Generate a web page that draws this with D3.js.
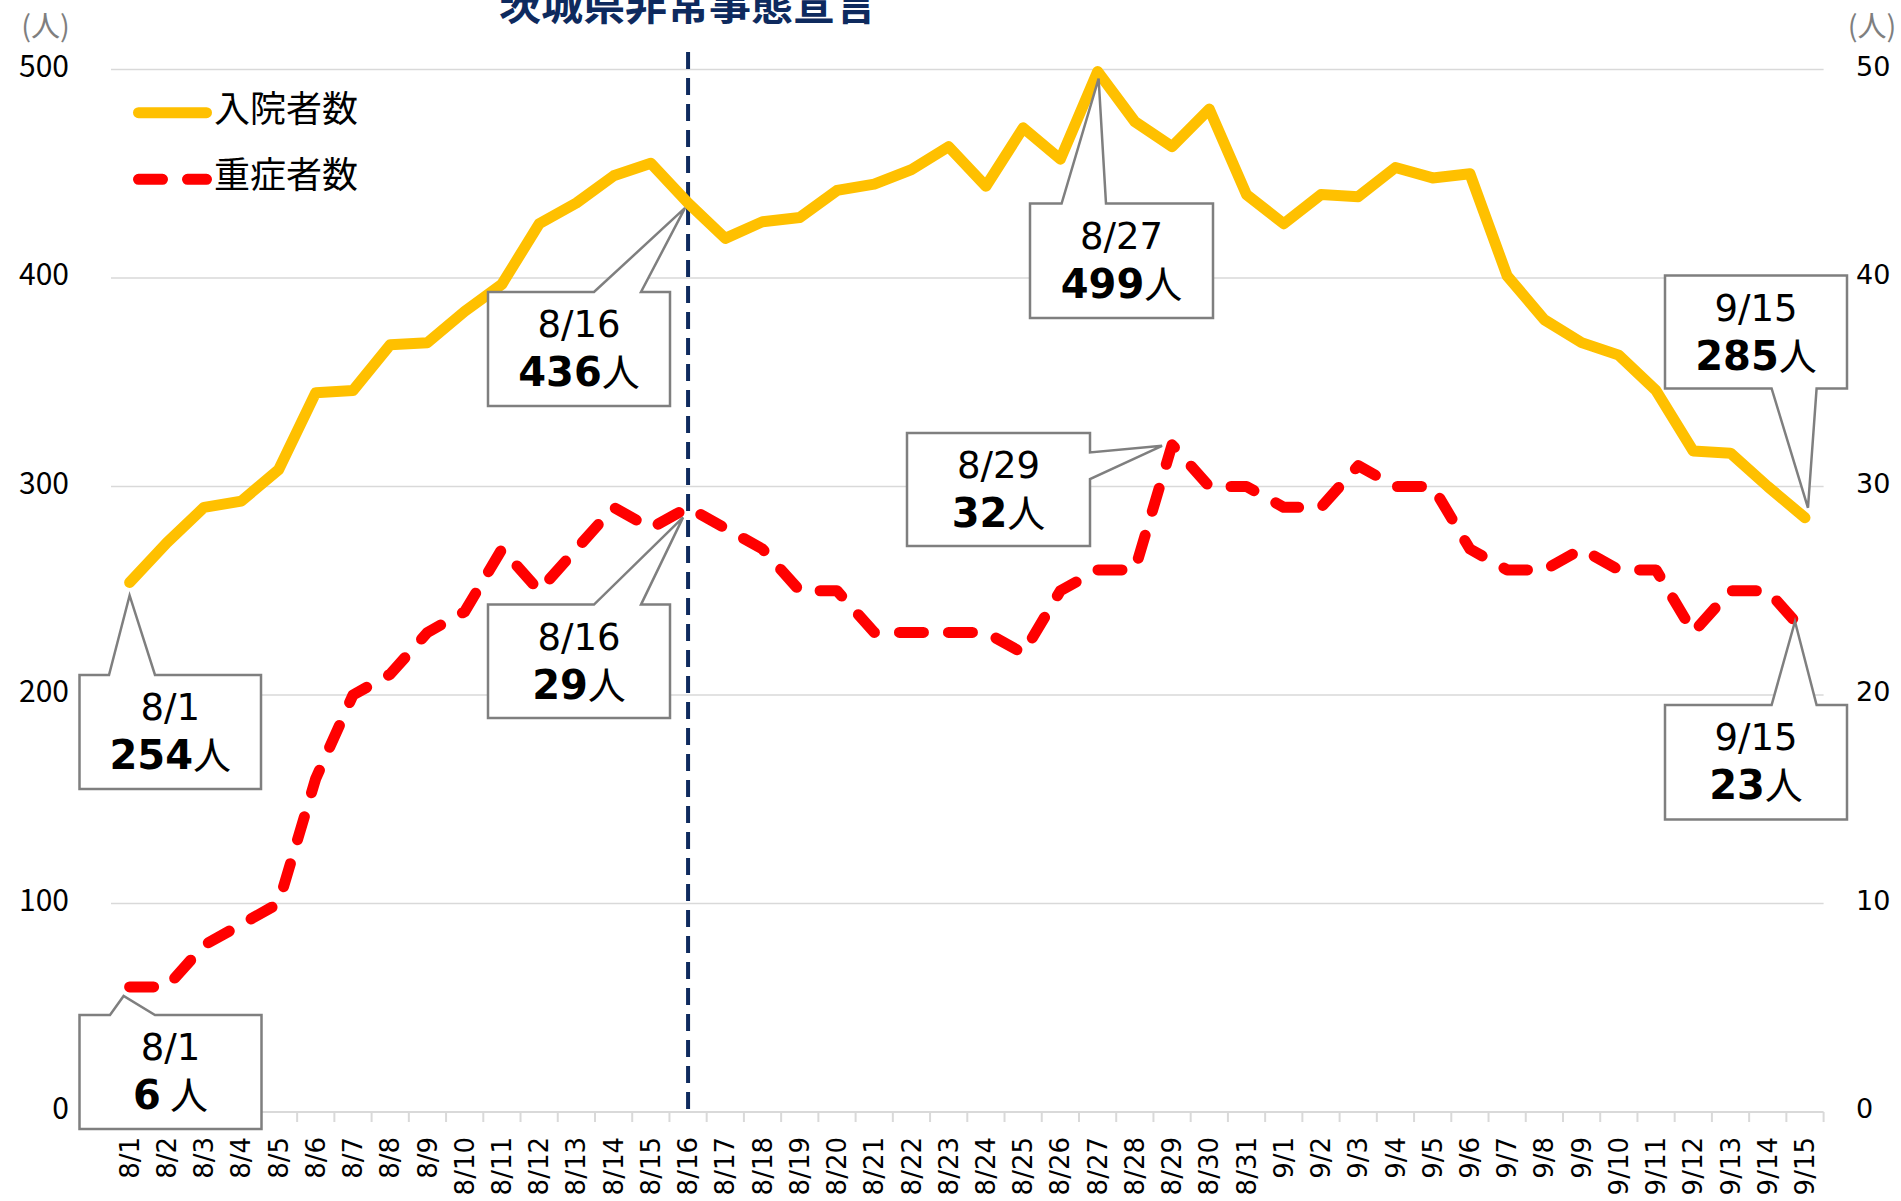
<!DOCTYPE html>
<html>
<head>
<meta charset="utf-8">
<script src="https://cdn.jsdelivr.net/npm/d3@7"></script>
<style>
  html, body { margin: 0; padding: 0; background: #fff; }
  svg { display: block; }
</style>
</head>
<body>
<svg id="chart" width="1901" height="1201"></svg>
<script>
// ---- data ----
const dates = [
  '8/1','8/2','8/3','8/4','8/5','8/6','8/7','8/8','8/9','8/10',
  '8/11','8/12','8/13','8/14','8/15','8/16','8/17','8/18','8/19','8/20',
  '8/21','8/22','8/23','8/24','8/25','8/26','8/27','8/28','8/29','8/30','8/31',
  '9/1','9/2','9/3','9/4','9/5','9/6','9/7','9/8','9/9','9/10',
  '9/11','9/12','9/13','9/14','9/15'
];
// 入院者数 (left axis)
const inpatients = [
  254, 273, 290, 293, 308, 345, 346, 368, 369, 384,
  397, 426, 436, 449, 455, 436, 419, 427, 429, 442,
  445, 452, 463, 444, 472, 457, 499, 475, 463, 481, 440,
  426, 440, 439, 453, 448, 450, 401, 380, 369, 363,
  346, 317, 316, 300, 285
];
// 重症者数 (right axis)
const severe = [
  6, 6, 8, 9, 10, 16, 20, 21, 23, 24,
  27, 25, 27, 29, 28, 29, 28, 27, 25, 25,
  23, 23, 23, 23, 22, 25, 26, 26, 32, 30, 30,
  29, 29, 31, 30, 30, 27, 26, 26, 27, 26,
  26, 23, 25, 25, 23
];
const leftTicks = [0, 100, 200, 300, 400, 500];
const rightTicks = [0, 10, 20, 30, 40, 50];
const seriesNames = ['入院者数', '重症者数'];
const declarationDate = '8/16';
const declarationLabel = '茨城県非常事態宣言';
const unitLabel = '(人)';

// ---- layout ----
const plot = { left: 111, right: 1823.6, top: 69.5, bottom: 1112 };
const CJK = '"Noto Sans CJK JP", "Noto Sans CJK SC", sans-serif';
const LATIN = '"DejaVu Sans", Verdana, sans-serif';
const yellow = '#FFC000';
const red = '#FF0000';
const navy = '#0e2a5e';
const gridColor = '#d9d9d9';
const boxStroke = '#7f7f7f';

const svg = d3.select('#chart');

const x = d3.scaleBand().domain(dates).range([plot.left, plot.right]);
const cx = d => x(d) + x.bandwidth() / 2;
const yLeft = d3.scaleLinear().domain([0, 500]).range([plot.bottom, plot.top]);
const yRight = d3.scaleLinear().domain([0, 50]).range([plot.bottom, plot.top]);

// gridlines
svg.append('g')
  .selectAll('line')
  .data(leftTicks.filter(t => t > 0))
  .join('line')
  .attr('x1', plot.left).attr('x2', plot.right)
  .attr('y1', d => yLeft(d)).attr('y2', d => yLeft(d))
  .attr('stroke', gridColor).attr('stroke-width', 1.5);

// category axis: line + tick marks between categories
svg.append('line')
  .attr('x1', plot.left).attr('x2', plot.right)
  .attr('y1', plot.bottom).attr('y2', plot.bottom)
  .attr('stroke', gridColor).attr('stroke-width', 2.2);

const boundaries = dates.map(d => x(d)).concat([plot.right]);
svg.append('g')
  .selectAll('line')
  .data(boundaries)
  .join('line')
  .attr('x1', d => d).attr('x2', d => d)
  .attr('y1', plot.bottom).attr('y2', plot.bottom + 10)
  .attr('stroke', gridColor).attr('stroke-width', 2);

// rotated date labels
const xAxis = svg.append('g')
  .attr('transform', 'translate(0,' + plot.bottom + ')')
  .call(d3.axisBottom(x).tickSize(0).tickSizeOuter(0));
xAxis.select('.domain').remove();
xAxis.selectAll('text')
  .attr('transform', 'rotate(-90)')
  .attr('text-anchor', 'end')
  .attr('x', -25)
  .attr('y', 0)
  .attr('dy', '0.35em')
  .attr('fill', '#000')
  .style('font-family', LATIN)
  .style('font-size', '26px');

// left value labels
svg.append('g')
  .selectAll('text')
  .data(leftTicks)
  .join('text')
  .attr('x', 69)
  .attr('y', d => yLeft(d) + 7)
  .attr('text-anchor', 'end')
  .style('font-family', CJK)
  .style('font-size', '30px')
  .text(d => d);

// right value labels
svg.append('g')
  .selectAll('text')
  .data(rightTicks)
  .join('text')
  .attr('x', 1856)
  .attr('y', d => yRight(d) + 6)
  .attr('text-anchor', 'start')
  .style('font-family', LATIN)
  .style('font-size', '27px')
  .text(d => d);

// unit labels
[45.5, 1872].forEach(ux => {
  svg.append('text')
    .attr('x', ux).attr('y', 24)
    .attr('dominant-baseline', 'central')
    .attr('text-anchor', 'middle')
    .attr('fill', '#7f7f7f')
    .style('font-family', CJK)
    .style('font-size', '29px')
    .text(unitLabel);
});

// declaration marker
svg.append('line')
  .attr('x1', cx(declarationDate)).attr('x2', cx(declarationDate))
  .attr('y1', 52).attr('y2', plot.bottom)
  .attr('stroke', navy).attr('stroke-width', 4)
  .attr('stroke-dasharray', '17,9');

svg.append('text')
  .attr('x', cx(declarationDate)).attr('y', 20)
  .attr('text-anchor', 'middle')
  .attr('fill', navy)
  .style('font-family', CJK)
  .style('font-weight', 'bold')
  .style('font-size', '42px')
  .text(declarationLabel);

// series lines
const lineLeft = d3.line().x((d, i) => cx(dates[i])).y(d => yLeft(d));
const lineRight = d3.line().x((d, i) => cx(dates[i])).y(d => yRight(d));

svg.append('path')
  .datum(inpatients)
  .attr('d', lineLeft)
  .attr('fill', 'none')
  .attr('stroke', yellow).attr('stroke-width', 11)
  .attr('stroke-linejoin', 'round').attr('stroke-linecap', 'round');

svg.append('path')
  .datum(severe)
  .attr('d', lineRight)
  .attr('fill', 'none')
  .attr('stroke', red).attr('stroke-width', 11)
  .attr('stroke-linejoin', 'round').attr('stroke-linecap', 'round')
  .attr('stroke-dasharray', '24,25');

// legend
const legend = svg.append('g');
legend.append('line')
  .attr('x1', 138.5).attr('x2', 206.5).attr('y1', 112.7).attr('y2', 112.7)
  .attr('stroke', yellow).attr('stroke-width', 11).attr('stroke-linecap', 'round');
legend.append('line')
  .attr('x1', 138.5).attr('x2', 206.5).attr('y1', 179.3).attr('y2', 179.3)
  .attr('stroke', red).attr('stroke-width', 11).attr('stroke-linecap', 'round')
  .attr('stroke-dasharray', '24,25');
legend.selectAll('text.lg')
  .data(seriesNames)
  .join('text')
  .attr('class', 'lg')
  .attr('x', 214)
  .attr('y', (d, i) => [106, 172][i])
  .attr('dominant-baseline', 'central')
  .style('font-family', CJK)
  .style('font-size', '36px')
  .text(d => d);

// callouts: box corners, pointer edge and tip offset from the data point
const callouts = [
  { s: 'in',  date: '8/1',  x0: 79.5, y0: 675,   x1: 261,  y1: 789,   edge: 'top',    a: 109,    b: 155,    dx: 0,   dy: 13 },
  { s: 'in',  date: '8/16', x0: 488,  y0: 292,   x1: 670,  y1: 406,   edge: 'top',    a: 594,    b: 641,    dx: -3,  dy: 5 },
  { s: 'sev', date: '8/16', x0: 488,  y0: 604.6, x1: 670,  y1: 718,   edge: 'top',    a: 594,    b: 641,    dx: -5,  dy: 10 },
  { s: 'in',  date: '8/27', x0: 1030, y0: 203.6, x1: 1213, y1: 318,   edge: 'top',    a: 1061.6, b: 1106,   dx: 1,   dy: 7 },
  { s: 'sev', date: '8/29', x0: 907,  y0: 433,   x1: 1090, y1: 546,   edge: 'right',  a: 452.5,  b: 479,    dx: -10, dy: 1 },
  { s: 'in',  date: '9/15', x0: 1665, y0: 275.6, x1: 1847, y1: 388.5, edge: 'bottom', a: 1771.6, b: 1816.6, dx: 3,   dy: -10 },
  { s: 'sev', date: '9/15', x0: 1665, y0: 705,   x1: 1847, y1: 819.5, edge: 'top',    a: 1771.6, b: 1816.6, dx: -10, dy: -11 },
  { s: 'sev', date: '8/1',  x0: 79.5, y0: 1015,  x1: 261.5, y1: 1129, edge: 'top',    a: 110,    b: 155,    dx: -6,  dy: 9, gap: 9 }
];

function calloutPath(c, tx, ty) {
  const p = d3.path();
  if (c.edge === 'top') {
    p.moveTo(c.x0, c.y0); p.lineTo(c.a, c.y0); p.lineTo(tx, ty); p.lineTo(c.b, c.y0);
    p.lineTo(c.x1, c.y0); p.lineTo(c.x1, c.y1); p.lineTo(c.x0, c.y1);
  } else if (c.edge === 'bottom') {
    p.moveTo(c.x0, c.y0); p.lineTo(c.x1, c.y0); p.lineTo(c.x1, c.y1);
    p.lineTo(c.b, c.y1); p.lineTo(tx, ty); p.lineTo(c.a, c.y1); p.lineTo(c.x0, c.y1);
  } else {
    p.moveTo(c.x0, c.y0); p.lineTo(c.x1, c.y0); p.lineTo(c.x1, c.a); p.lineTo(tx, ty);
    p.lineTo(c.x1, c.b); p.lineTo(c.x1, c.y1); p.lineTo(c.x0, c.y1);
  }
  p.closePath();
  return p.toString();
}

callouts.forEach(c => {
  const i = dates.indexOf(c.date);
  const value = c.s === 'in' ? inpatients[i] : severe[i];
  const py = c.s === 'in' ? yLeft(value) : yRight(value);
  const tx = cx(c.date) + c.dx;
  const ty = py + c.dy;
  const g = svg.append('g');
  g.append('path')
    .attr('d', calloutPath(c, tx, ty))
    .attr('fill', '#fff')
    .attr('stroke', boxStroke).attr('stroke-width', 2.5)
    .attr('stroke-linejoin', 'miter');
  const mid = (c.x0 + c.x1) / 2;
  g.append('text')
    .attr('x', mid).attr('y', c.y0 + 45)
    .attr('text-anchor', 'middle')
    .style('font-family', LATIN).style('font-size', '37px')
    .text(c.date);
  const t = g.append('text')
    .attr('x', mid).attr('y', c.y0 + 94)
    .attr('text-anchor', 'middle');
  t.append('tspan')
    .style('font-family', LATIN).style('font-weight', 'bold').style('font-size', '40px')
    .text(value);
  t.append('tspan')
    .attr('dx', c.gap || 0)
    .style('font-family', CJK).style('font-size', '38px')
    .text('人');
});
</script>
</body>
</html>
